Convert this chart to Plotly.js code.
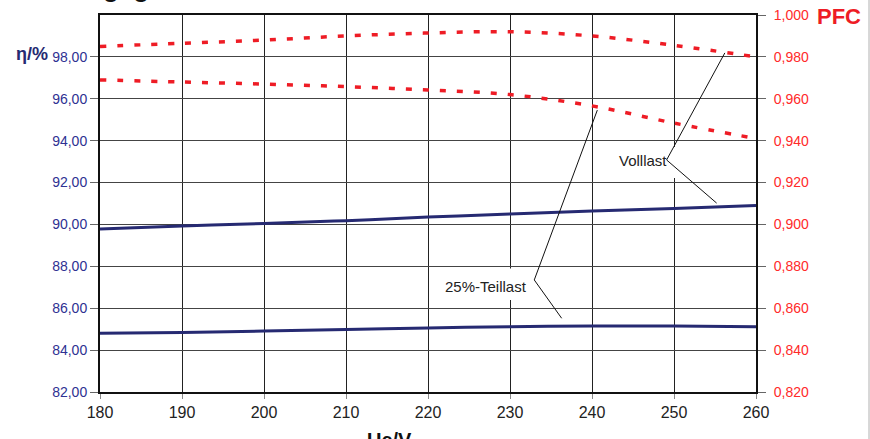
<!DOCTYPE html>
<html>
<head>
<meta charset="utf-8">
<script src="https://cdn.plot.ly/plotly-3.0.1.min.js"></script>
<style>html,body{margin:0;padding:0;background:#fff;}#chart{width:870px;height:439px;}</style>
</head>
<body>
<div id="chart"></div>
<script>
// Input voltage Ue/V
const voltage = [180, 190, 200, 210, 220, 230, 240, 250, 260];
// Efficiency η/% (left axis)
const etaFull = [89.78, 89.93, 90.05, 90.18, 90.35, 90.50, 90.64, 90.76, 90.90];
const etaPart = [84.80, 84.84, 84.91, 84.99, 85.06, 85.12, 85.15, 85.15, 85.12];
// Power factor PFC (right axis)
const pfcFull = [0.985, 0.9865, 0.988, 0.990, 0.9914, 0.992, 0.990, 0.9855, 0.980];
const pfcPart = [0.969, 0.968, 0.967, 0.9658, 0.9642, 0.962, 0.9566, 0.9484, 0.941];
// Tick labels
const leftTicks = [82, 84, 86, 88, 90, 92, 94, 96, 98];
const rightTicks = [0.82, 0.84, 0.86, 0.88, 0.90, 0.92, 0.94, 0.96, 0.98, 1.00];
const xTicks = [180, 190, 200, 210, 220, 230, 240, 250, 260];
// Callout labels (left-axis units)
const calloutText = ["Volllast", "25%-Teillast"];
const calloutLabelX = [249.35, 232.37];
const calloutLabelY = [93.07, 87.06];
const calloutVertexX = [249.1, 232.96];
const calloutVertexY = [93.08, 87.35];
const calloutEnd1X = [256.2, 240.65];
const calloutEnd1Y = [98.19, 95.46];
const calloutEnd2X = [255.2, 236.3];
const calloutEnd2Y = [91.02, 85.52];
// white label boxes behind callout texts
const boxX0 = [242.2, 221.0];
const boxX1 = [250.7, 232.7];
const boxY0 = [92.22, 86.39];
const boxY1 = [93.70, 87.90];

const navy = '#262a72';
const red = '#ee1c25';
const FONT = 'Liberation Sans, Arial, sans-serif';

const traces = [
  {x: voltage, y: etaFull, type: 'scatter', mode: 'lines', line: {color: navy, width: 3, shape: 'spline'}, yaxis: 'y', hoverinfo: 'skip'},
  {x: voltage, y: etaPart, type: 'scatter', mode: 'lines', line: {color: navy, width: 3, shape: 'spline'}, yaxis: 'y', hoverinfo: 'skip'},
  {x: voltage, y: pfcFull, type: 'scatter', mode: 'lines', line: {color: red, width: 3.5, dash: '6px,11px', shape: 'spline'}, yaxis: 'y2', hoverinfo: 'skip'},
  {x: voltage, y: pfcPart, type: 'scatter', mode: 'lines', line: {color: red, width: 3.5, dash: '6px,11px', shape: 'spline'}, yaxis: 'y2', hoverinfo: 'skip'}
];

const shapes = [];
for (let i = 0; i < calloutText.length; i++) {
  shapes.push({type: 'rect', xref: 'x', yref: 'y', layer: 'between', x0: boxX0[i], x1: boxX1[i], y0: boxY0[i], y1: boxY1[i], fillcolor: '#ffffff', line: {width: 0}});
  shapes.push({type: 'line', xref: 'x', yref: 'y', x0: calloutVertexX[i], y0: calloutVertexY[i], x1: calloutEnd1X[i], y1: calloutEnd1Y[i], line: {color: '#111', width: 1}});
  shapes.push({type: 'line', xref: 'x', yref: 'y', x0: calloutVertexX[i], y0: calloutVertexY[i], x1: calloutEnd2X[i], y1: calloutEnd2Y[i], line: {color: '#111', width: 1}});
}
// light border on the right edge of the image
shapes.push({type: 'line', xref: 'paper', yref: 'paper', x0: (869 - 100) / 656, x1: (869 - 100) / 656, y0: -47 / 377, y1: 1 + 15 / 377, line: {color: '#b0b0b0', width: 1}});

const annotations = [];
for (let i = 0; i < calloutText.length; i++) {
  annotations.push({text: calloutText[i], x: calloutLabelX[i], y: calloutLabelY[i], xref: 'x', yref: 'y', xanchor: 'right', yanchor: 'middle', showarrow: false, font: {family: FONT, size: 15, color: '#222'}});
}
annotations.push({text: '<b>η/%</b>', xref: 'paper', yref: 'paper', x: (14 - 100) / 656, y: (392 - 54) / 377, xanchor: 'left', yanchor: 'middle', showarrow: false, font: {family: FONT, size: 18, color: navy}});
annotations.push({text: '<b>PFC</b>', xref: 'paper', yref: 'paper', x: (815 - 100) / 656, y: (392 - 17) / 377, xanchor: 'left', yanchor: 'middle', showarrow: false, font: {family: FONT, size: 22, color: red}});
annotations.push({text: '<b>Ue/V</b>', xref: 'paper', yref: 'paper', x: (389 - 100) / 656, y: (392 - 440) / 377, xanchor: 'center', yanchor: 'middle', showarrow: false, font: {family: FONT, size: 20, color: '#111'}});
annotations.push({text: '<b>Wirkungsgrad und PFC</b>', xref: 'paper', yref: 'paper', x: (13 - 100) / 656, y: (392 - 5) / 377, xanchor: 'left', yanchor: 'bottom', showarrow: false, font: {family: FONT, size: 26, color: '#111'}});

const layout = {
  width: 870, height: 439,
  margin: {l: 100, r: 114, t: 15, b: 47, pad: 0},
  paper_bgcolor: '#ffffff', plot_bgcolor: '#ffffff',
  separators: ',.',
  showlegend: false,
  xaxis: {
    range: [180, 260], tickvals: xTicks, ticktext: xTicks.map(String),
    showgrid: true, gridcolor: '#222', gridwidth: 1,
    showline: true, linecolor: '#111', linewidth: 2, mirror: true,
    ticks: 'outside', ticklen: 5, tickcolor: '#888', tickwidth: 1,
    tickfont: {family: FONT, size: 16, color: '#222'},
    zeroline: false, fixedrange: true
  },
  yaxis: {
    range: [82, 100], tickvals: leftTicks, tickformat: '.2f',
    showgrid: true, gridcolor: '#444', gridwidth: 1,
    showline: true, linecolor: '#111', linewidth: 2, mirror: true,
    ticks: 'outside', ticklen: 8, tickcolor: '#666', tickwidth: 1,
    tickfont: {family: FONT, size: 14, color: '#2e3192'},
    zeroline: false, fixedrange: true
  },
  yaxis2: {
    range: [0.82, 1.0], tickvals: rightTicks, tickformat: '.3f',
    overlaying: 'y', side: 'right', showgrid: false,
    showline: true, linecolor: '#111', linewidth: 2,
    ticks: 'outside', ticklen: 8, tickcolor: '#666', tickwidth: 1,
    ticklabelstandoff: 5,
    tickfont: {family: FONT, size: 14, color: '#ff2a2a'},
    zeroline: false, fixedrange: true
  },
  shapes: shapes,
  annotations: annotations
};

Plotly.newPlot('chart', traces, layout, {staticPlot: true, displayModeBar: false});
</script>
</body>
</html>
